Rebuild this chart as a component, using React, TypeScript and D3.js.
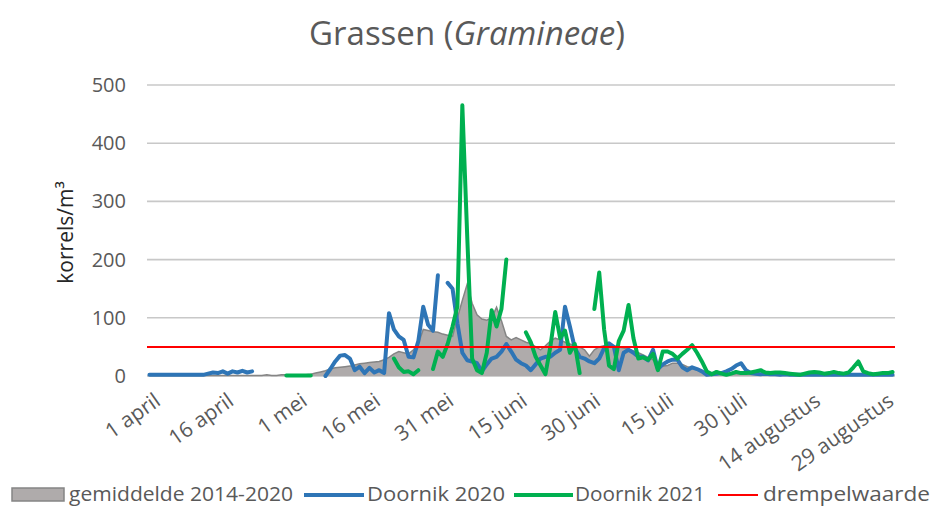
import React from "react";
import * as d3 from "d3";

const tickLabels = ["1 april", "16 april", "1 mei", "16 mei", "31 mei", "15 juni", "30 juni", "15 juli", "30 juli", "14 augustus", "29 augustus"];
const tickDays = [0, 15, 30, 45, 60, 75, 90, 105, 120, 135, 150];
const yTicks = [0, 100, 200, 300, 400, 500];
const threshold = 50;
const N = null;

// gemiddelde 2014-2020 (1 april .. 31 augustus)
const gemiddelde: number[] = [
  1,1,1,1,1,1,1,1,1,1, 1,1,1,1,1,1,1,1,1,1, 1,
  1,1,1,2,1,1,2,2,1,2,2,2,
  3,5,7,9,12,14,15,16,17,19,21,22,23,24,25,28,32,38,42,40,38,45,55,80,78,76,75,72,70,68,100,130,158,125,105,98,96,100,118,95,68,62,66,62,58,56,50,45,52,60,65,62,58,55,52,50,45,34,45,50,52,53,52,50,48,46,43,40,36,32,28,22,17,18,22,22,20,16,14,12,9,7,
  6,5,5,5,4,4,4,4,3,4,3,3,3,3,3,3,2,3,2,2,3,2,2,2,2,2,2,2,2,2,2,2,2,2,2,2,2,2,
];

// Doornik 2020
const doornik2020: (number | null)[] = [
  2,2,2,2,2,2,2,2,2,2,2,2,
  4,6,5,8,4,8,6,9,6,8,
  N,N,N,N,N,N,N,N,N,N,N,N,N,N,
  0,12,25,35,36,30,10,16,5,14,6,10,5,108,80,68,62,33,32,60,119,88,78,173,N,160,150,90,40,27,25,22,8,20,30,33,42,55,42,28,22,18,10,20,30,33,33,40,45,119,85,48,33,30,25,22,30,48,56,50,10,40,45,40,33,33,27,45,12,20,25,28,28,15,10,15,12,8,2,
  3,4,5,8,12,18,22,10,5,4,3,4,3,3,2,3,2,2,
  2,2,2,2,2,2,2,2,2,2,2,2,2,2,2,2,2,2,2,2,
];

// Doornik 2021
const doornik2021: (number | null)[] = [
  N,N,N,N,N,N,N,N,N,N,N,N,N,N,N,N,N,N,N,N,N,N,N,N,N,N,N,N,
  1,1,1,1,1,1,
  N,N,N,N,N,N,N,N,N,N,N,N,N,N,N,N,
  30,15,7,8,3,10,N,N,12,42,33,55,85,120,465,240,30,10,5,40,113,85,115,200,N,N,N,75,58,33,18,3,50,110,65,78,40,55,5,N,N,115,178,80,18,12,60,78,122,65,30,32,28,38,10,42,42,38,30,38,45,53,40,25,8,
  3,7,4,2,4,7,5,5,6,8,10,6,5,6,6,5,4,3,2,4,6,7,6,4,5,7,5,4,6,15,25,8,5,3,4,5,5,7,
];

const W = 935;
const H = 506;
const left = 147;
const right = 895;
const top = 85;
const bottom = 376;
const textColor = "#595959";
const font = "'Open Sans', sans-serif";

export default function App() {
  const n = gemiddelde.length;
  const x = d3.scaleLinear().domain([-0.5, n - 0.5]).range([left, right]);
  const y = d3.scaleLinear().domain([0, 500]).range([bottom, top]);

  const area = d3
    .area<number>()
    .x((_, i) => x(i))
    .y0(y(0))
    .y1((d) => y(d));
  const edge = d3
    .line<number>()
    .x((_, i) => x(i))
    .y((d) => y(d));
  const line = d3
    .line<number | null>()
    .defined((d) => d != null)
    .x((_, i) => x(i))
    .y((d) => y(d as number));

  return (
    <svg
      width={W}
      height={H}
      style={{ position: "absolute", left: 0, top: 0, background: "#fff" }}
      fontFamily={font}
    >
      <text x={467} y={45} textAnchor="middle" fontSize={33} fill={textColor}>
        Grassen (<tspan fontStyle="italic">Gramineae</tspan>)
      </text>

      {yTicks.map((t) => (
        <g key={t}>
          <line
            x1={left}
            x2={right}
            y1={y(t)}
            y2={y(t)}
            stroke={t === 0 ? "#bfbfbf" : "#c8c8c8"}
            strokeWidth={1.6}
          />
          <text
            x={126}
            y={y(t)}
            dy="0.35em"
            textAnchor="end"
            fontSize={20}
            fill={textColor}
          >
            {t}
          </text>
        </g>
      ))}

      <text
        transform={`translate(73,${(top + bottom) / 2 + 2}) rotate(-90)`}
        textAnchor="middle"
        fontSize={21}
        fill="#262626"
      >
        korrels/m³
      </text>

      <path d={area(gemiddelde) || ""} fill="#afabab" />
      <path d={edge(gemiddelde) || ""} fill="none" stroke="#858585" strokeWidth={1.5} />
      <path
        d={line(doornik2020) || ""}
        fill="none"
        stroke="#2e75b6"
        strokeWidth={4}
        strokeLinejoin="round"
        strokeLinecap="round"
      />
      <path
        d={line(doornik2021) || ""}
        fill="none"
        stroke="#00b050"
        strokeWidth={4}
        strokeLinejoin="round"
        strokeLinecap="round"
      />
      <line x1={left} x2={right} y1={y(threshold)} y2={y(threshold)} stroke="#ff0000" strokeWidth={2} />

      {tickDays.map((d, i) => (
        <text
          key={d}
          transform={`translate(${x(d) + 4},${bottom + 16}) rotate(-35)`}
          textAnchor="end"
          dy="0.7em"
          fontSize={21}
          fill={textColor}
        >
          {tickLabels[i]}
        </text>
      ))}

      <g>
        <rect x={12} y={488} width={52} height={13} fill="#afabab" stroke="#858585" strokeWidth={1.5} />
        <text x={69} y={501} fontSize={20} fill={textColor} textLength={224} lengthAdjust="spacingAndGlyphs">
          gemiddelde 2014-2020
        </text>
        <line x1={304} x2={364} y1={495} y2={495} stroke="#2e75b6" strokeWidth={4} />
        <text x={367} y={501} fontSize={20} fill={textColor} textLength={138} lengthAdjust="spacingAndGlyphs">
          Doornik 2020
        </text>
        <line x1={514} x2={573} y1={495} y2={495} stroke="#00b050" strokeWidth={4} />
        <text x={575} y={501} fontSize={20} fill={textColor} textLength={130} lengthAdjust="spacingAndGlyphs">
          Doornik 2021
        </text>
        <line x1={718} x2={758} y1={495} y2={495} stroke="#ff0000" strokeWidth={2} />
        <text x={763} y={501} fontSize={20} fill={textColor} textLength={167} lengthAdjust="spacingAndGlyphs">
          drempelwaarde
        </text>
      </g>
    </svg>
  );
}
